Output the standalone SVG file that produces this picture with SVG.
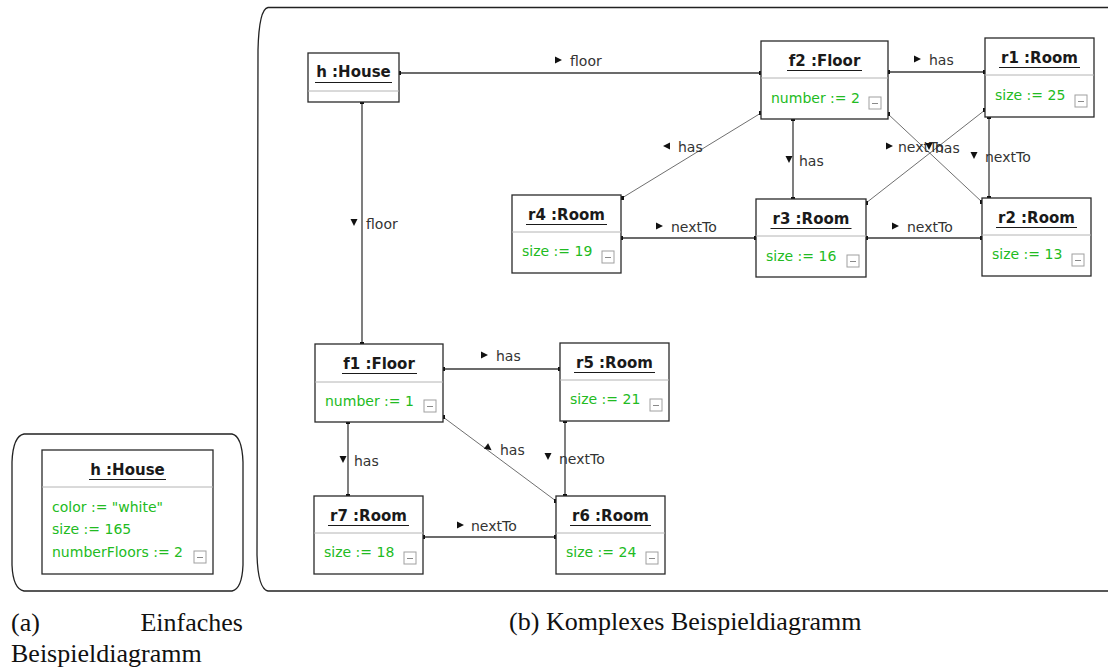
<svg xmlns="http://www.w3.org/2000/svg" xmlns:xlink="http://www.w3.org/1999/xlink" width="1108" height="667" viewBox="0 0 1108 667">
  <style>
    .box { fill: #ffffff; stroke: #2a2a2a; stroke-width: 1.3; }
    .div { stroke: #b4b4b4; stroke-width: 1; }
    .title { font-family: "DejaVu Sans", sans-serif; font-weight: bold; font-size: 15px; fill: #1a1a1a; text-anchor: middle; }
    .ul { stroke: #1a1a1a; stroke-width: 1.2; }
    .attr { font-family: "DejaVu Sans", sans-serif; font-size: 14px; fill: #22bb22; }
    .mini { fill: #ffffff; stroke: #a0a0a0; stroke-width: 1; }
    .miniln { stroke: #8a8a8a; stroke-width: 1; }
    .edge { stroke: #3a3a3a; stroke-width: 1.3; fill: none; }
    .diag { stroke: #4a4a4a; stroke-width: 0.8; fill: none; }
    .lbl { font-family: "DejaVu Sans", sans-serif; font-size: 14px; fill: #333333; }
    .tri { fill: #111111; }
    .frame { fill: none; stroke: #222222; stroke-width: 1.3; }
    .cap { font-family: "Liberation Serif", "Times New Roman", serif; font-size: 26px; fill: #111111; }
  </style>
  <defs>
    <path id="triR" d="M0,-3.5 L7,0 L0,3.5 Z"/>
    <path id="triL" d="M7,-3.5 L0,0 L7,3.5 Z"/>
    <path id="triD" d="M-3.5,0 L3.5,0 L0,7 Z"/>
    <rect id="dot" x="-2" y="-2" width="4" height="4" fill="#111111"/>
    <g id="minus">
      <rect class="mini" x="0" y="0" width="12" height="12"/>
      <line class="miniln" x1="3" y1="6.5" x2="9" y2="6.5"/>
    </g>
  </defs>

  <!-- frames -->
  <path class="frame" d="M24,434 L232,434 Q242,436 243,462 L243,565 Q242,589 232,591 L24,591 Q13,589 12,565 L12,462 Q13,436 24,434 Z"/>
  <path class="frame" d="M1108,7.5 L268,7.5 Q259,9 258,50 L257,555 Q258,589 268,591 L1108,591"/>

  <!-- simple example: house with attributes -->
  <g id="house-simple">
    <rect class="box" x="42" y="450" width="171" height="124"/>
    <text class="title" x="127.5" y="475">h :House</text>
    <line class="ul" x1="89" y1="479.5" x2="166" y2="479.5"/>
    <line class="div" x1="42" y1="487" x2="213" y2="487"/>
    <text class="attr" x="52" y="512">color := "white"</text>
    <text class="attr" x="52" y="534">size := 165</text>
    <text class="attr" x="52" y="557">numberFloors := 2</text>
    <use href="#minus" x="194" y="551"/>
  </g>

  <!-- connectors -->
  <g id="connectors">
    <line class="edge" x1="399" y1="73" x2="761" y2="73"/>
    <line class="edge" x1="362" y1="102" x2="362" y2="344"/>
    <line class="edge" x1="888" y1="72" x2="985" y2="72"/>
    <line class="diag" x1="761" y1="113" x2="622" y2="198"/>
    <line class="edge" x1="793" y1="119" x2="793" y2="199"/>
    <line class="diag" x1="888" y1="114" x2="982" y2="202"/>
    <line class="diag" x1="985" y1="110" x2="866" y2="203"/>
    <line class="edge" x1="989" y1="117" x2="989" y2="198"/>
    <line class="edge" x1="621" y1="238" x2="756" y2="238"/>
    <line class="edge" x1="866" y1="238" x2="982" y2="238"/>
    <line class="edge" x1="443" y1="369" x2="560" y2="369"/>
    <line class="edge" x1="348" y1="422" x2="348" y2="496"/>
    <line class="diag" x1="443" y1="417" x2="556" y2="501"/>
    <line class="edge" x1="565" y1="421" x2="565" y2="496"/>
    <line class="edge" x1="423" y1="537" x2="556" y2="537"/>

    <!-- end points -->
    <use href="#dot" x="399" y="73"/><use href="#dot" x="761" y="73"/>
    <use href="#dot" x="362" y="102"/><use href="#dot" x="362" y="344"/>
    <use href="#dot" x="888" y="72"/><use href="#dot" x="985" y="72"/>
    <use href="#dot" x="761" y="113"/><use href="#dot" x="622" y="198"/>
    <use href="#dot" x="793" y="119"/><use href="#dot" x="793" y="199"/>
    <use href="#dot" x="888" y="114"/><use href="#dot" x="982" y="202"/>
    <use href="#dot" x="985" y="110"/><use href="#dot" x="866" y="203"/>
    <use href="#dot" x="989" y="117"/><use href="#dot" x="989" y="198"/>
    <use href="#dot" x="621" y="238"/><use href="#dot" x="756" y="238"/>
    <use href="#dot" x="866" y="238"/><use href="#dot" x="982" y="238"/>
    <use href="#dot" x="443" y="369"/><use href="#dot" x="560" y="369"/>
    <use href="#dot" x="348" y="422"/><use href="#dot" x="348" y="496"/>
    <use href="#dot" x="443" y="417"/><use href="#dot" x="556" y="501"/>
    <use href="#dot" x="565" y="421"/><use href="#dot" x="565" y="496"/>
    <use href="#dot" x="423" y="537"/><use href="#dot" x="556" y="537"/>

    <!-- labels -->
    <use class="tri" href="#triR" x="555" y="60"/><text class="lbl" x="570" y="66">floor</text>
    <use class="tri" href="#triD" x="354" y="219"/><text class="lbl" x="366" y="229">floor</text>
    <use class="tri" href="#triR" x="914" y="59"/><text class="lbl" x="929" y="65">has</text>
    <use class="tri" href="#triL" x="663" y="146"/><text class="lbl" x="678" y="152">has</text>
    <use class="tri" href="#triD" x="789" y="156"/><text class="lbl" x="799" y="166">has</text>
    <use class="tri" href="#triR" x="886" y="146"/><text class="lbl" x="898" y="152">nextTo</text>
    <use class="tri" href="#triD" x="929" y="143"/><text class="lbl" x="935" y="153">has</text>
    <use class="tri" href="#triD" x="974" y="152"/><text class="lbl" x="985" y="162">nextTo</text>
    <use class="tri" href="#triR" x="656" y="226"/><text class="lbl" x="671" y="232">nextTo</text>
    <use class="tri" href="#triR" x="892" y="226"/><text class="lbl" x="907" y="232">nextTo</text>
    <use class="tri" href="#triR" x="481" y="355"/><text class="lbl" x="496" y="361">has</text>
    <use class="tri" href="#triD" x="343" y="456"/><text class="lbl" x="354" y="466">has</text>
    <path class="tri" d="M0,-3.5 L7,0 L0,3.5 Z" transform="translate(486,446) rotate(37)"/><text class="lbl" x="500" y="455">has</text>
    <use class="tri" href="#triD" x="548" y="453"/><text class="lbl" x="559" y="464">nextTo</text>
    <use class="tri" href="#triR" x="457" y="525"/><text class="lbl" x="471" y="531">nextTo</text>
  </g>

  <!-- complex example: object nodes -->
  <g id="h">
    <rect class="box" x="308" y="53" width="91" height="49"/>
    <text class="title" x="353.5" y="77">h :House</text>
    <line class="ul" x1="315" y1="82.5" x2="392" y2="82.5"/>
    <line class="div" x1="308" y1="91" x2="399" y2="91"/>
  </g>
  <g id="f2">
    <rect class="box" x="761" y="41" width="127" height="78"/>
    <text class="title" x="824.5" y="66">f2 :Floor</text>
    <line class="ul" x1="787" y1="70.5" x2="862" y2="70.5"/>
    <line class="div" x1="761" y1="78" x2="888" y2="78"/>
    <text class="attr" x="771" y="103">number := 2</text>
    <use href="#minus" x="869" y="97"/>
  </g>
  <g id="r1">
    <rect class="box" x="985" y="38" width="109" height="79"/>
    <text class="title" x="1039.5" y="63">r1 :Room</text>
    <line class="ul" x1="999" y1="67.5" x2="1080" y2="67.5"/>
    <line class="div" x1="985" y1="75" x2="1094" y2="75"/>
    <text class="attr" x="995" y="100">size := 25</text>
    <use href="#minus" x="1075" y="95"/>
  </g>
  <g id="r4">
    <rect class="box" x="512" y="195" width="109" height="78"/>
    <text class="title" x="566.5" y="220">r4 :Room</text>
    <line class="ul" x1="526" y1="224.5" x2="607" y2="224.5"/>
    <line class="div" x1="512" y1="232" x2="621" y2="232"/>
    <text class="attr" x="522" y="256">size := 19</text>
    <use href="#minus" x="602" y="251"/>
  </g>
  <g id="r3">
    <rect class="box" x="756" y="199" width="110" height="78"/>
    <text class="title" x="811" y="224">r3 :Room</text>
    <line class="ul" x1="770.5" y1="228.5" x2="851.5" y2="228.5"/>
    <line class="div" x1="756" y1="236" x2="866" y2="236"/>
    <text class="attr" x="766" y="261">size := 16</text>
    <use href="#minus" x="847" y="255"/>
  </g>
  <g id="r2">
    <rect class="box" x="982" y="198" width="109" height="78"/>
    <text class="title" x="1036.5" y="223">r2 :Room</text>
    <line class="ul" x1="996" y1="227.5" x2="1077" y2="227.5"/>
    <line class="div" x1="982" y1="235" x2="1091" y2="235"/>
    <text class="attr" x="992" y="259">size := 13</text>
    <use href="#minus" x="1072" y="254"/>
  </g>
  <g id="f1">
    <rect class="box" x="315" y="344" width="128" height="78"/>
    <text class="title" x="379" y="369">f1 :Floor</text>
    <line class="ul" x1="342" y1="373.5" x2="417" y2="373.5"/>
    <line class="div" x1="315" y1="382" x2="443" y2="382"/>
    <text class="attr" x="325" y="406">number := 1</text>
    <use href="#minus" x="424" y="400"/>
  </g>
  <g id="r5">
    <rect class="box" x="560" y="343" width="109" height="78"/>
    <text class="title" x="614.5" y="368">r5 :Room</text>
    <line class="ul" x1="574" y1="372.5" x2="655" y2="372.5"/>
    <line class="div" x1="560" y1="380" x2="669" y2="380"/>
    <text class="attr" x="570" y="404">size := 21</text>
    <use href="#minus" x="650" y="399"/>
  </g>
  <g id="r7">
    <rect class="box" x="314" y="496" width="109" height="78"/>
    <text class="title" x="368.5" y="521">r7 :Room</text>
    <line class="ul" x1="328" y1="525.5" x2="409" y2="525.5"/>
    <line class="div" x1="314" y1="533" x2="423" y2="533"/>
    <text class="attr" x="324" y="557">size := 18</text>
    <use href="#minus" x="404" y="552"/>
  </g>
  <g id="r6">
    <rect class="box" x="556" y="496" width="109" height="78"/>
    <text class="title" x="610.5" y="521">r6 :Room</text>
    <line class="ul" x1="570" y1="525.5" x2="651" y2="525.5"/>
    <line class="div" x1="556" y1="533" x2="665" y2="533"/>
    <text class="attr" x="566" y="557">size := 24</text>
    <use href="#minus" x="646" y="552"/>
  </g>

  <!-- captions -->
  <g id="captions">
    <text class="cap" x="11" y="631">(a)</text>
    <text class="cap" x="243" y="631" text-anchor="end">Einfaches</text>
    <text class="cap" x="11" y="662">Beispieldiagramm</text>
    <text class="cap" x="509" y="630">(b)<tspan x="546">Komplexes Beispieldiagramm</tspan></text>
  </g>
</svg>
